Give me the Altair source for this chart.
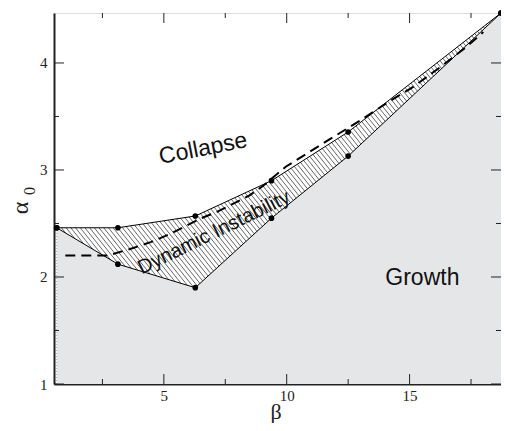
import altair as alt
import numpy as np
import pandas as pd

# boundary data (beta, alpha0)
beta = [0.64, 3.13, 6.28, 9.38, 12.5, 18.72]
upper = [2.46, 2.46, 2.57, 2.90, 3.355, 4.467]
lower = [2.46, 2.12, 1.90, 2.55, 3.13, 4.467]

dash_beta = [0.99, 2.7, 3.69, 4.49, 5.29, 5.83, 6.49, 7.16, 7.83, 8.49, 9.03,
             9.96, 11.77, 12.97, 14.1, 15.17, 16.24, 17.31, 18.0]
dash_alpha = [2.20, 2.20, 2.266, 2.328, 2.406, 2.47, 2.546, 2.608, 2.686, 2.763, 2.85,
              3.03, 3.29, 3.46, 3.63, 3.78, 3.96, 4.15, 4.29]

label_text = ["Collapse", "Growth"]
label_beta = [6.60, 15.52]
label_alpha = [3.20, 1.99]

x_major = [5, 10, 15]
x_minor = [2.5, 7.5, 12.5, 17.5]
y_major = [1, 2, 3, 4]
y_minor = [1.5, 2.5, 3.5]

XDOM = [0.53, 18.72]
YDOM = [1.0, 4.467]
W, H = 447, 371

xs = alt.Scale(domain=XDOM, nice=False, zero=False)
ys = alt.Scale(domain=YDOM, nice=False, zero=False)

bdf = pd.DataFrame({"b": beta, "up": upper, "lo": lower, "base": [1.0] * len(beta)})
ddf = pd.DataFrame({"b": dash_beta, "a": dash_alpha})
pts = pd.DataFrame({"b": beta + beta, "a": upper + lower})
ldf = pd.DataFrame({"t": label_text, "b": label_beta, "a": label_alpha})

# hatch segments clipped to the instability region
SX = W / (XDOM[1] - XDOM[0])
SY = H / (YDOM[1] - YDOM[0])
m = 1.25 * SX / SY
dc = m * 4.7 / SX
bb = np.linspace(beta[0], beta[-1], 6000)
lo_i = np.interp(bb, beta, lower)
up_i = np.interp(bb, beta, upper)
cvals = up_i + m * bb
lowc = lo_i + m * bb
segs = []
for c in np.arange(lowc.min(), cvals.max(), dc):
    a = c - m * bb
    inside = (a >= lo_i) & (a <= up_i)
    idx = np.where(inside)[0]
    if len(idx) == 0:
        continue
    runs = np.split(idx, np.where(np.diff(idx) > 1)[0] + 1)
    for r in runs:
        if len(r) < 2:
            continue
        segs.append({"b": bb[r[0]], "a": c - m * bb[r[0]],
                     "b2": bb[r[-1]], "a2": c - m * bb[r[-1]]})
hdf = pd.DataFrame(segs)

X = lambda f: alt.X(f, type="quantitative", scale=xs, title=None)
Y = lambda f: alt.Y(f, type="quantitative", scale=ys, title=None)

base_axes = alt.Chart(bdf).mark_area(color="#e5e6e8").encode(
    x=alt.X("b:Q", scale=xs, title=None,
            axis=alt.Axis(values=x_major, ticks=False, domainWidth=2, domainColor="#222",
                          labelFont="Liberation Serif", labelFontSize=15, labelColor="#222",
                          labelPadding=4, format="d", grid=False)),
    y=alt.Y("lo:Q", scale=ys, title=None,
            axis=alt.Axis(values=y_major, ticks=False, domainWidth=2, domainColor="#222",
                          labelFont="Liberation Serif", labelFontSize=15, labelColor="#222",
                          labelPadding=7, format="d", grid=False)),
    y2="base:Q",
)

dotted = alt.Chart(bdf.iloc[:1]).mark_rule(color="#aaaaaa", strokeDash=[1, 2], strokeWidth=1).encode(
    x=X("b"), y=Y("base"), y2="lo:Q")

hatch = alt.Chart(hdf).mark_rule(color="black", strokeWidth=0.6).encode(
    x=X("b"), y=Y("a"), x2="b2:Q", y2="a2:Q")

upl = alt.Chart(bdf).mark_line(color="black", strokeWidth=1).encode(x=X("b"), y=Y("up"))
lol = alt.Chart(bdf).mark_line(color="black", strokeWidth=1).encode(x=X("b"), y=Y("lo"))

dashed = alt.Chart(ddf).mark_line(color="black", strokeWidth=2, strokeDash=[10, 6]).encode(
    x=X("b"), y=Y("a"))

points = alt.Chart(pts).mark_point(filled=True, color="black", size=32, opacity=1).encode(
    x=X("b"), y=Y("a"))

labels = alt.Chart(ldf).mark_text(font="Liberation Sans", fontSize=23, color="#111").encode(
    x=X("b"), y=Y("a"), text="t:N",
    angle=alt.Angle("ang:Q", scale=None)).transform_calculate(
    ang="datum.t == 'Collapse' ? 349 : 0")

dyn = alt.Chart(pd.DataFrame({"t": ["Dynamic Instability"], "b": [7.04], "a": [2.415]})).mark_text(
    font="Liberation Sans", fontSize=20, color="#111", angle=334).encode(
    x=X("b"), y=Y("a"), text="t:N")

beta_t = alt.Chart(pd.DataFrame({"t": ["β"]})).mark_text(
    font="Liberation Serif", fontSize=22, color="#222", baseline="alphabetic").encode(
    x=alt.value(222), y=alt.value(H + 35), text="t:N")
alpha_t = alt.Chart(pd.DataFrame({"t": ["α"]})).mark_text(
    font="Liberation Serif", fontSize=24, angle=270, color="#222").encode(
    x=alt.value(-33), y=alt.value(195), text="t:N")
sub_t = alt.Chart(pd.DataFrame({"t": ["0"]})).mark_text(
    font="Liberation Serif", fontSize=16, angle=270, color="#222").encode(
    x=alt.value(-24), y=alt.value(178), text="t:N")

def ticks_x(vals, length):
    d = pd.DataFrame({"v": vals})
    bot = alt.Chart(d).mark_rule(color="#222", strokeWidth=1).encode(
        x=X("v"), y=alt.value(H), y2=alt.value(H - length))
    top = alt.Chart(d).mark_rule(color="#222", strokeWidth=1).encode(
        x=X("v"), y=alt.value(0), y2=alt.value(length))
    return bot + top

def ticks_y(vals, length):
    d = pd.DataFrame({"v": vals})
    left = alt.Chart(d).mark_rule(color="#222", strokeWidth=1).encode(
        y=Y("v"), x=alt.value(0), x2=alt.value(length))
    right = alt.Chart(d).mark_rule(color="#222", strokeWidth=1).encode(
        y=Y("v"), x=alt.value(W), x2=alt.value(W - length))
    return left + right

chart = alt.layer(
    base_axes, dotted, hatch, upl, lol, dashed, points, labels, dyn, beta_t, alpha_t, sub_t,
    ticks_x(x_major, 10), ticks_x(x_minor, 5), ticks_y(y_major, 10), ticks_y(y_minor, 5),
).properties(
    width=W, height=H,
    autosize=alt.AutoSizeParams(type="none"),
    padding={"left": 46, "top": 5, "right": 0, "bottom": 39},
).configure_view(stroke="#222", strokeWidth=1).configure(background="white")

chart.save("out.html", embed_options={"renderer": "svg", "actions": False})
